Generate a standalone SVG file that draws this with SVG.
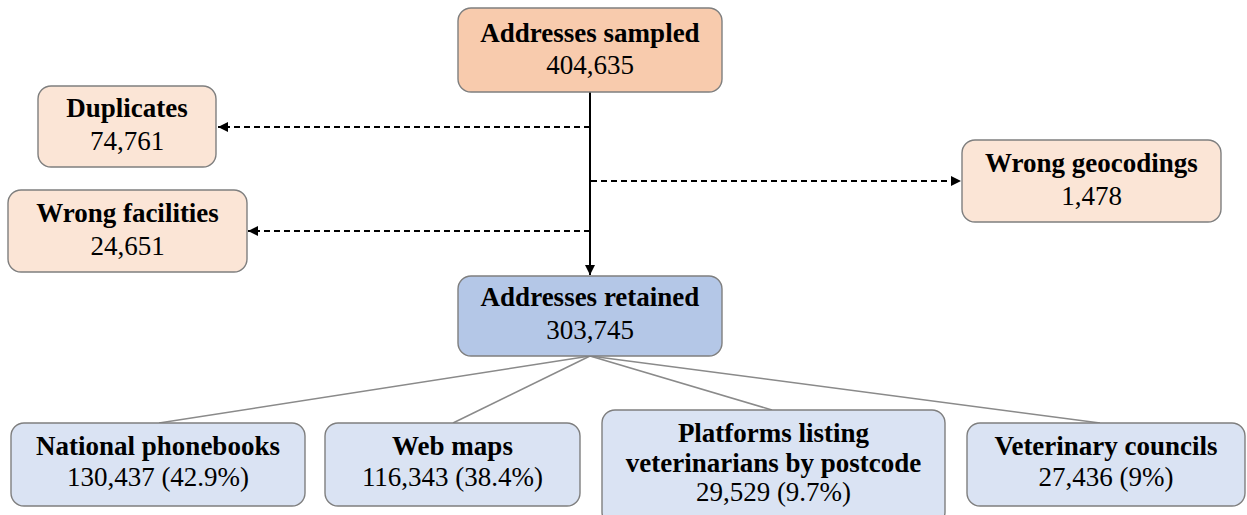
<svg xmlns="http://www.w3.org/2000/svg" width="1247" height="515" viewBox="0 0 1247 515">
<style>
.box{stroke:#7f7f7f;stroke-width:1.4}
.top{fill:#f8cbad}
.exc{fill:#fbe5d6}
.ret{fill:#b4c7e7}
.src{fill:#dae3f3}
.t{font-family:'Liberation Serif','Times New Roman',Times,serif;font-size:27px;fill:#000;text-anchor:middle}
.b{font-weight:bold}
.solid{stroke:#000;stroke-width:2;fill:none}
.dash{stroke:#000;stroke-width:2;stroke-dasharray:6 4;fill:none}
.tree{stroke:#8a8a8a;stroke-width:1.5;fill:none}
</style>
<defs>
<marker id="ah" viewBox="0 0 10 10" refX="10" refY="5" markerWidth="10" markerHeight="10" markerUnits="userSpaceOnUse" orient="auto">
<path d="M0,0 L10,5 L0,10 Z" fill="#000"/>
</marker>
</defs>
<rect width="1247" height="515" fill="#fff"/>
<g id="connectors">
<line class="solid" x1="590" y1="92" x2="590" y2="275" marker-end="url(#ah)"/>
<line class="dash" x1="590" y1="127" x2="218" y2="127" marker-end="url(#ah)"/>
<line class="dash" x1="590" y1="231" x2="248" y2="231" marker-end="url(#ah)"/>
<line class="dash" x1="591" y1="181" x2="961" y2="181" marker-end="url(#ah)"/>
<line class="tree" x1="590" y1="356" x2="159" y2="423"/>
<line class="tree" x1="590" y1="356" x2="453" y2="423"/>
<line class="tree" x1="590" y1="356" x2="772" y2="410"/>
<line class="tree" x1="590" y1="356" x2="1100" y2="423"/>
</g>
<g class="t" font-family="Liberation Serif, Times New Roman, serif">
<g id="sampled">
<rect class="box top" x="458" y="8" width="264" height="84" rx="13"/>
<text class="b" x="590" y="42">Addresses sampled</text>
<text x="590" y="74">404,635</text>
</g>
<g id="duplicates">
<rect class="box exc" x="38" y="86" width="178" height="81" rx="13"/>
<text class="b" x="127" y="117">Duplicates</text>
<text x="127" y="150">74,761</text>
</g>
<g id="wrong-facilities">
<rect class="box exc" x="8" y="190" width="239" height="82" rx="13"/>
<text class="b" x="127.5" y="222">Wrong facilities</text>
<text x="127.5" y="255">24,651</text>
</g>
<g id="wrong-geocodings">
<rect class="box exc" x="962" y="140" width="259" height="82" rx="13"/>
<text class="b" x="1091.5" y="172">Wrong geocodings</text>
<text x="1091.5" y="205">1,478</text>
</g>
<g id="retained">
<rect class="box ret" x="458" y="276" width="264" height="80" rx="13"/>
<text class="b" x="590" y="306">Addresses retained</text>
<text x="590" y="339">303,745</text>
</g>
<g id="phonebooks">
<rect class="box src" x="11" y="423" width="294" height="83" rx="13"/>
<text class="b" x="158" y="455">National phonebooks</text>
<text x="158" y="486">130,437 (42.9%)</text>
</g>
<g id="webmaps">
<rect class="box src" x="325" y="423" width="255" height="83" rx="13"/>
<text class="b" x="452.5" y="455">Web maps</text>
<text x="452.5" y="486">116,343 (38.4%)</text>
</g>
<g id="platforms">
<rect class="box src" x="602" y="410" width="343" height="115" rx="13"/>
<text class="b" x="773.5" y="442">Platforms listing</text>
<text class="b" x="773.5" y="472">veterinarians by postcode</text>
<text x="773.5" y="501">29,529 (9.7%)</text>
</g>
<g id="councils">
<rect class="box src" x="967" y="423" width="278" height="83" rx="13"/>
<text class="b" x="1106" y="455">Veterinary councils</text>
<text x="1106" y="486">27,436 (9%)</text>
</g>
</g>
</svg>
